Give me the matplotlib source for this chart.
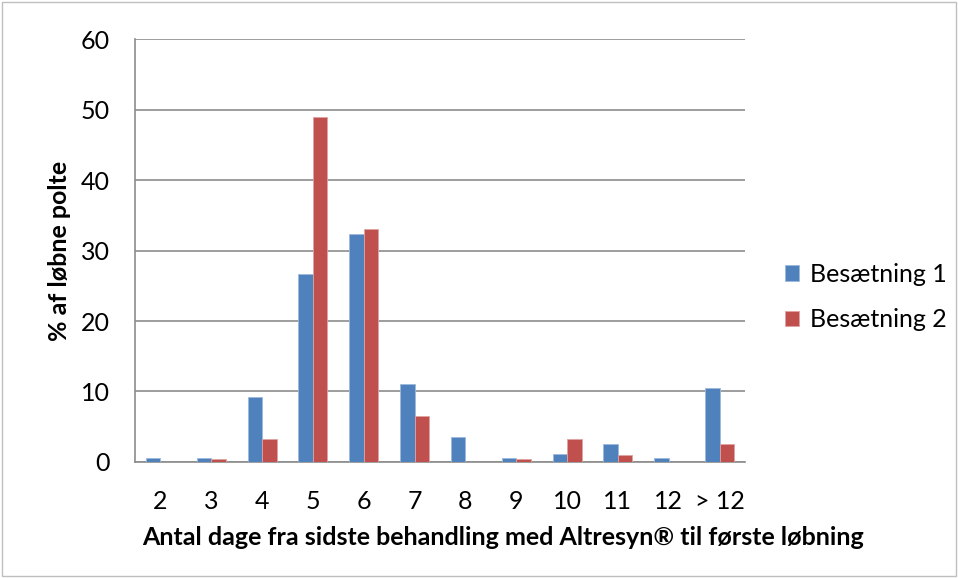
import matplotlib

matplotlib.use("Agg")
import matplotlib.pyplot as plt
import numpy as np

# Data
kategorier = ["2", "3", "4", "5", "6", "7", "8", "9", "10", "11", "12", "> 12"]
besaetning_1 = [0.6, 0.6, 9.2, 26.7, 32.3, 11.1, 3.6, 0.5, 1.1, 2.5, 0.5, 10.5]
besaetning_2 = [0.0, 0.4, 3.2, 48.9, 33.0, 6.5, 0.0, 0.4, 3.2, 1.0, 0.0, 2.6]

BLAA = "#4F81BD"
ROED = "#C0504D"
FS = 18

plt.rcParams["font.family"] = ["Lato", "DejaVu Sans"]

fig = plt.figure(figsize=(9.58, 5.78), dpi=100)
ax = fig.add_axes([0.1409, 0.2007, 0.6368, 0.7318])

x = np.arange(len(kategorier))
b = 0.285
ax.bar(x - b / 2, besaetning_1, width=b, color=BLAA, label="Besætning 1",
       edgecolor="#9DB8DC", linewidth=0.6, zorder=3)
ax.bar(x + b / 2, besaetning_2, width=b, color=ROED, label="Besætning 2",
       edgecolor="#E0A3A1", linewidth=0.6, zorder=3)

ax.set_xlim(-0.5, len(kategorier) - 0.5)
ax.set_ylim(0, 60)
ax.set_yticks(range(0, 61, 10))
ax.set_xticks(x)
ax.set_xticklabels(kategorier)
ax.tick_params(axis="both", length=0, labelsize=FS, colors="black")
ax.tick_params(axis="x", pad=20)
ax.tick_params(axis="y", pad=18)
ax.yaxis.grid(True, color="#8C8C8C", lw=1.2, zorder=0)
for side in ("top", "right"):
    ax.spines[side].set_visible(False)
for side in ("left", "bottom"):
    ax.spines[side].set_color("#8C8C8C")
    ax.spines[side].set_linewidth(1.2)

ax.set_ylabel("% af løbne polte", fontsize=FS, fontweight="bold")
ax.yaxis.set_label_coords(-0.105, 0.5)
ax.set_xlabel("Antal dage fra sidste behandling med Altresyn® til første løbning",
              fontsize=FS, fontweight="bold")
ax.xaxis.set_label_coords(0.604, -0.152)

fig.legend(*ax.get_legend_handles_labels(), loc="center left",
           bbox_to_anchor=(785 / 958, 0.486), frameon=False,
           fontsize=FS, handlelength=0.55, handleheight=0.55, handletextpad=0.45,
           labelspacing=0.9, borderaxespad=0, borderpad=0)

# light grey frame around the whole chart area
fig.patches.append(plt.Rectangle((0.002, 0.004), 0.996, 0.992,
                                 transform=fig.transFigure, fill=False,
                                 edgecolor="#BFBFBF", lw=1))

fig.savefig("out.png", dpi=100)
